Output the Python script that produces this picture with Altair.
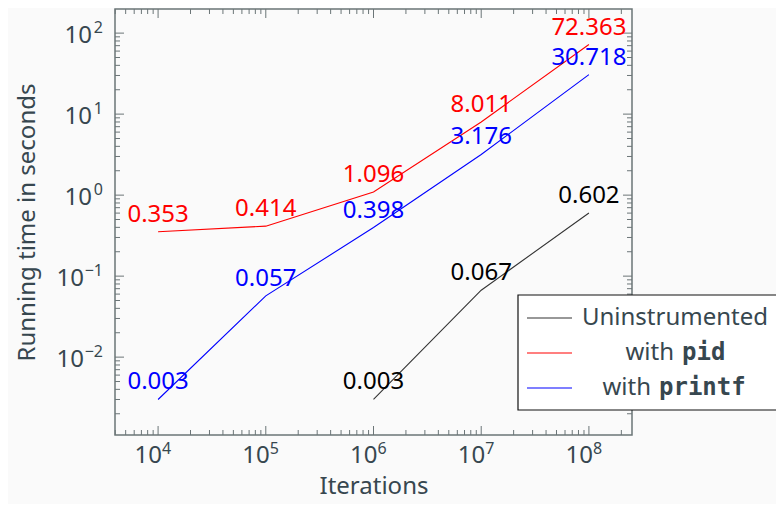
import altair as alt
import pandas as pd

# ---- data ----
iterations = [1e4, 1e5, 1e6, 1e7, 1e8]
uninstr_iters = [1e6, 1e7, 1e8]
uninstr_time = [0.003, 0.067, 0.602]
pid_time = [0.353, 0.414, 1.096, 8.011, 72.363]
printf_time = [0.003, 0.057, 0.398, 3.176, 30.718]

series_names = ["Uninstrumented", "with pid", "with printf"]
line_colors = ["#333333", "#ff0000", "#0000ff"]
label_colors = ["#000000", "#ff0000", "#0000ff"]

x_major = [1e4, 1e5, 1e6, 1e7, 1e8]
x_exp = ["4", "5", "6", "7", "8"]
y_major = [1e-2, 1e-1, 1e0, 1e1, 1e2]
y_exp = ["\u22122", "\u22121", "0", "1", "2"]
x_domain = [10 ** 3.6, 10 ** 8.4]
y_domain = [10 ** -2.9613, 10 ** 2.2978]

W, H = 517, 426
FONT = "Noto Sans"
FS = 24
SFS = 16
MONO = "DejaVu Sans Mono"
TXT = "#37474f"
FRAME = "#6b7577"

rows = []
for x, y in zip(uninstr_iters, uninstr_time):
    rows.append({"series": series_names[0], "it": x, "t": y})
for x, y in zip(iterations, pid_time):
    rows.append({"series": series_names[1], "it": x, "t": y})
for x, y in zip(iterations, printf_time):
    rows.append({"series": series_names[2], "it": x, "t": y})
df = pd.DataFrame(rows)


def minor_ticks(lo, hi, e0, e1):
    out = []
    for e in range(e0, e1 + 1):
        for k in range(2, 10):
            v = k * 10 ** e
            if lo <= v <= hi:
                out.append(v)
    return out


x_minor = minor_ticks(x_domain[0], x_domain[1], 3, 8)
y_minor = minor_ticks(y_domain[0], y_domain[1], -3, 2)

xs = alt.Scale(type="log", domain=x_domain, nice=False)
ys = alt.Scale(type="log", domain=y_domain, nice=False)

xaxis = alt.Axis(
    labels=False, grid=False, ticks=False, domain=False,
    title="Iterations", titleFont=FONT, titleFontSize=FS, titleFontWeight="normal",
    titleColor=TXT, titlePadding=39)
yaxis = alt.Axis(
    labels=False, grid=False, ticks=False, domain=False,
    title="Running time in seconds", titleFont=FONT, titleFontSize=FS,
    titleFontWeight="normal", titleColor=TXT, titlePadding=76)

X = lambda f: alt.X(f, scale=xs, axis=xaxis, title="Iterations")
Y = lambda f: alt.Y(f, scale=ys, axis=yaxis, title="Running time in seconds")

lines = alt.Chart(df).mark_line(strokeWidth=1.1, clip=True).encode(
    x=X("it:Q"),
    y=Y("t:Q"),
    color=alt.Color("series:N", scale=alt.Scale(domain=series_names, range=line_colors),
                    legend=None),
    detail="series:N",
)

labels = alt.Chart(df).mark_text(fontSize=FS, font=FONT, baseline="alphabetic",
                                 align="center", dy=-10).encode(
    x=X("it:Q"),
    y=Y("t:Q"),
    text=alt.Text("t:Q", format=".3f"),
    color=alt.Color("series:N", scale=alt.Scale(domain=series_names, range=label_colors),
                    legend=None),
)


def xticks(vals, size):
    d = pd.DataFrame({"it": vals})
    bot = alt.Chart(d).mark_rule(color=FRAME, strokeWidth=1).encode(
        x=X("it:Q"), y=alt.value(H), y2=alt.value(H - size))
    top = alt.Chart(d).mark_rule(color=FRAME, strokeWidth=1).encode(
        x=X("it:Q"), y=alt.value(0), y2=alt.value(size))
    return [bot, top]


def yticks(vals, size):
    d = pd.DataFrame({"t": vals})
    left = alt.Chart(d).mark_rule(color=FRAME, strokeWidth=1).encode(
        y=Y("t:Q"), x=alt.value(0), x2=alt.value(size))
    right = alt.Chart(d).mark_rule(color=FRAME, strokeWidth=1).encode(
        y=Y("t:Q"), x=alt.value(W), x2=alt.value(W - size))
    return [left, right]


tick_layers = xticks(x_major, 9) + xticks(x_minor, 5) + yticks(y_major, 9) + yticks(y_minor, 5)

# ---- tick labels as base "10" plus raised exponent ----
xl = pd.DataFrame({"it": x_major, "e": x_exp})
x_base = alt.Chart(xl).mark_text(text="10", font=FONT, fontSize=FS, color=TXT,
                                 align="right", baseline="alphabetic", dx=4).encode(
    x=X("it:Q"), y=alt.value(H + 28))
x_sup = alt.Chart(xl).mark_text(font=FONT, fontSize=SFS, color=TXT,
                                align="left", baseline="alphabetic", dx=4).encode(
    x=X("it:Q"), y=alt.value(H + 19), text="e:N")

yl = pd.DataFrame({"t": y_major, "e": y_exp})
yl_neg = yl[yl["e"].str.startswith("\u2212")]
yl_pos = yl[~yl["e"].str.startswith("\u2212")]
y_sup = alt.Chart(yl).mark_text(font=FONT, fontSize=SFS, color=TXT,
                                align="right", baseline="alphabetic", dy=0).encode(
    y=Y("t:Q"), x=alt.value(-12), text="e:N")
y_base_pos = alt.Chart(yl_pos).mark_text(text="10", font=FONT, fontSize=FS, color=TXT,
                                         align="right", baseline="alphabetic", dy=10).encode(
    y=Y("t:Q"), x=alt.value(-23))
y_base_neg = alt.Chart(yl_neg).mark_text(text="10", font=FONT, fontSize=FS, color=TXT,
                                         align="right", baseline="alphabetic", dy=10).encode(
    y=Y("t:Q"), x=alt.value(-31))

# ---- legend (drawn by hand to allow mixed fonts) ----
one = pd.DataFrame({"a": [0]})
LX0, LX1, LY0, LY1 = 403, 680, 286, 401
leg_box = alt.Chart(one).mark_rect(fill="white", stroke="#111111", strokeWidth=1.2).encode(
    x=alt.value(LX0), x2=alt.value(LX1), y=alt.value(LY0), y2=alt.value(LY1))
leg_rows = [309, 344, 379]
leg_layers = [leg_box]
for yy, col in zip(leg_rows, line_colors):
    leg_layers.append(alt.Chart(one).mark_rule(color=col, strokeWidth=1.1).encode(
        x=alt.value(412), x2=alt.value(457), y=alt.value(yy)))
leg_layers.append(alt.Chart(one).mark_text(
    text="Uninstrumented", font=FONT, fontSize=FS, color=TXT, align="center",
    baseline="middle").encode(x=alt.value(560), y=alt.value(leg_rows[0])))
leg_layers.append(alt.Chart(one).mark_text(
    text="with", font=FONT, fontSize=FS, color=TXT, align="right",
    baseline="middle").encode(x=alt.value(559), y=alt.value(leg_rows[1])))
leg_layers.append(alt.Chart(one).mark_text(
    text="pid", font=MONO, fontWeight="bold", fontSize=24, color=TXT, align="left",
    baseline="middle").encode(x=alt.value(567), y=alt.value(leg_rows[1])))
leg_layers.append(alt.Chart(one).mark_text(
    text="with", font=FONT, fontSize=FS, color=TXT, align="right",
    baseline="middle").encode(x=alt.value(536), y=alt.value(leg_rows[2])))
leg_layers.append(alt.Chart(one).mark_text(
    text="printf", font=MONO, fontWeight="bold", fontSize=24, color=TXT, align="left",
    baseline="middle").encode(x=alt.value(544), y=alt.value(leg_rows[2])))

chart = alt.layer(lines, *tick_layers, labels, x_base, x_sup, y_sup, y_base_pos,
                  y_base_neg, *leg_layers).resolve_scale(
    color="independent"
).properties(
    width=W, height=H,
    autosize=alt.AutoSizeParams(type="none"),
    padding={"left": 107, "top": 1, "right": 144, "bottom": 69},
    background="#fafafa",
).configure_view(stroke=FRAME, strokeWidth=1.5)

chart.save("out.html", embed_options={"renderer": "svg", "actions": False})
